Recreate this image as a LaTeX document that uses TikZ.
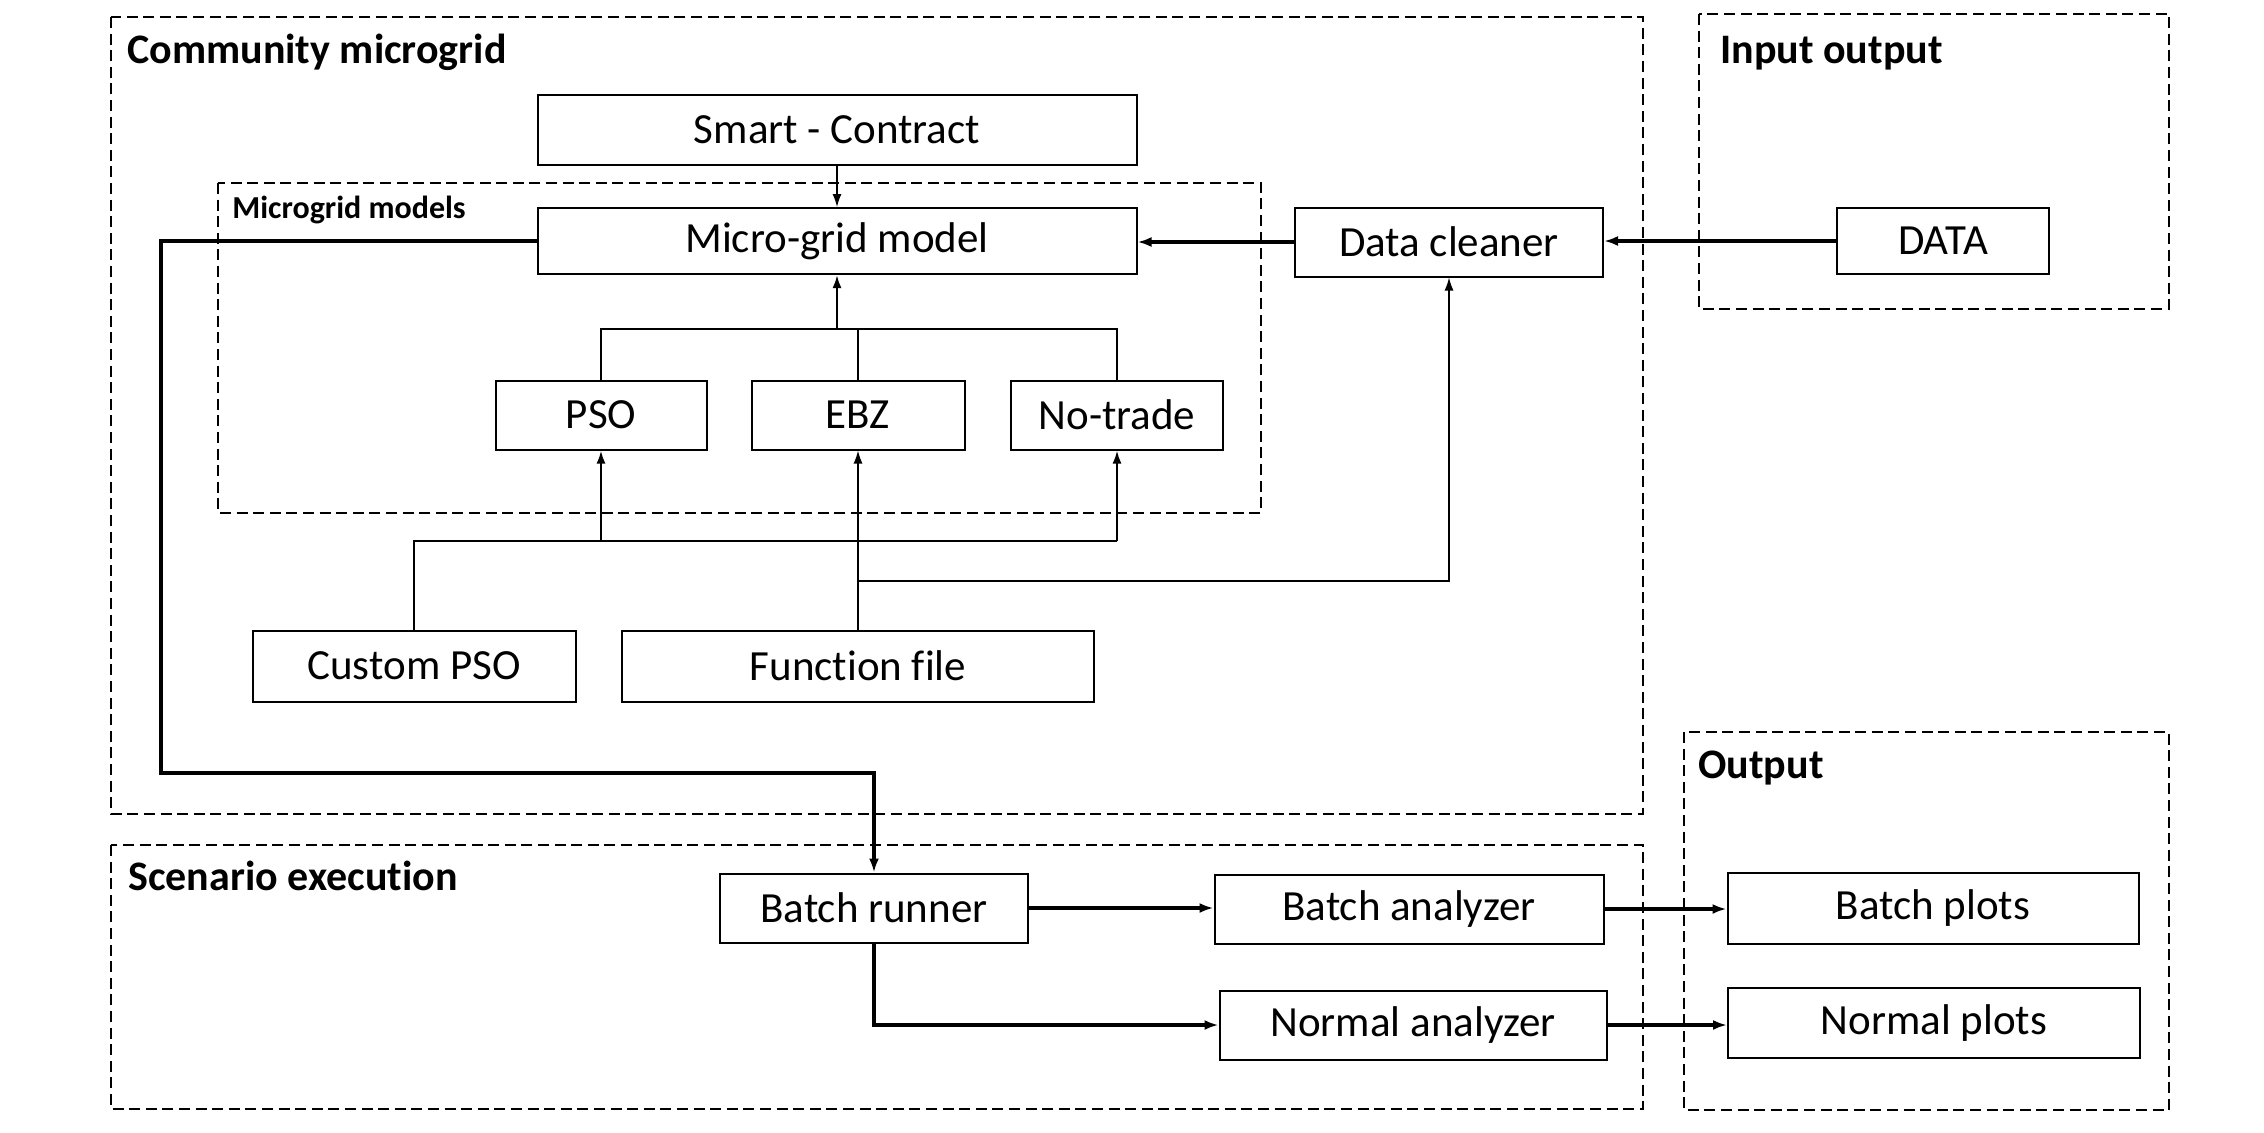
\documentclass[tikz,border=0pt]{standalone}
\usepackage{fontspec}
\setmainfont{Carlito}[Ligatures=NoCommon]
\usetikzlibrary{arrows.meta}
\begin{document}
\begin{tikzpicture}[x=0.5pt,y=-0.5pt,
  box/.style={draw, line width=1pt, inner sep=0pt, anchor=center, font=\fontsize{21.5}{24}\selectfont},
  group/.style={draw, line width=0.9pt, dash pattern=on 5.5pt off 2.8pt},
  grouptitle/.style={anchor=base west, inner sep=0pt, font=\fontsize{21}{24}\selectfont\bfseries},
  thick conn/.style={line width=1.9pt, -{Latex[length=7pt,width=5pt]}},
  thin conn/.style={line width=0.7pt, -{Latex[length=6.5pt,width=4.5pt]}},
  thin line/.style={line width=0.7pt},
  mid line/.style={line width=1.1pt}]
\useasboundingbox (0,0) rectangle (2264,1132);
\fill[white] (0,0) rectangle (2264,1132);
% groups
\draw[group] (111,17) rectangle (1643,814);
\draw[group] (1699,14) rectangle (2169,309);
\draw[group] (1684,732) rectangle (2169,1110);
\draw[group] (111,845) rectangle (1643,1109);
\draw[group] (218,183) rectangle (1261,513);
\node[grouptitle] (tcm) at (127,63) {Community microgrid};
\node[grouptitle] (tio) at (1720,63) {Input output};
\node[grouptitle] (tout) at (1698,778) {Output};
\node[grouptitle] (tse) at (128,890) {Scenario execution};
\node[grouptitle, font=\fontsize{16}{18}\selectfont\bfseries] (tmm) at (232,218) {Microgrid models};
% nodes
\node[box, minimum width=299.5pt, minimum height=35pt] (sc) at (837,130) {Smart - Contract};
\node[box, minimum width=299.5pt, minimum height=33pt] (mg) at (837,241) {Micro-grid model};
\node[box, minimum width=154pt, minimum height=34.5pt] (dc) at (1449,242) {Data cleaner};
\node[box, minimum width=106pt, minimum height=33pt] (data) at (1943,241) {DATA};
\node[box, minimum width=105.5pt, minimum height=34.5pt] (pso) at (601,415) {PSO};
\node[box, minimum width=106.5pt, minimum height=34.5pt] (ebz) at (858,415) {EBZ};
\node[box, minimum width=106pt, minimum height=34.5pt] (nt) at (1117,415) {No-trade};
\node[box, minimum width=161.5pt, minimum height=35.5pt] (cpso) at (414,666) {Custom PSO};
\node[box, minimum width=236pt, minimum height=35.5pt] (ff) at (858,666) {Function file};
\node[box, minimum width=154pt, minimum height=34.5pt] (br) at (874,908) {Batch runner};
\node[box, minimum width=194.5pt, minimum height=34.5pt] (ba) at (1409,909) {Batch analyzer};
\node[box, minimum width=193.5pt, minimum height=34.5pt] (na) at (1413,1025) {Normal analyzer};
\node[box, minimum width=205.5pt, minimum height=35.5pt] (bp) at (1933,908) {Batch plots};
\node[box, minimum width=206pt, minimum height=35pt] (np) at (1934,1023) {Normal plots};
% junction coordinates
\coordinate (tree) at (837,329);
\coordinate (bus) at (858,541);
\coordinate (dj) at (858,581);
\coordinate (k2) at (161,773);
% connectors
\draw[thin conn] (sc.south) -- (mg.north);
\draw[thick conn] (dc.west) -- (dc.west -| mg.east);
\draw[thick conn] (data.west) -- (data.west -| dc.east);
% tree up to micro-grid model
\draw[mid line] (pso.north) |- (tree) -| (nt.north);
\draw[thin line] (ebz.north) -- (ebz.north |- tree);
\draw[mid line, -{Latex[length=6.5pt,width=4.5pt]}] (tree) -- (mg.south);
% bus from custom PSO and function file
\draw[mid line] (cpso.north) |- (bus);
\draw[mid line] (bus) -- (bus -| nt.south);
\draw[mid line, -{Latex[length=6.5pt,width=4.5pt]}] (bus -| pso.south) -- (pso.south);
\draw[thin conn] (bus) -- (ebz.south);
\draw[mid line, -{Latex[length=6.5pt,width=4.5pt]}] (bus -| nt.south) -- (nt.south);
\draw[mid line] (ff.north) -- (bus);
\draw[thin conn] (dj) -| (dc.south);
% micro-grid model to batch runner
\draw[thick conn] (mg.west) -| (k2) -| (br.north);
\draw[thick conn] (br.east) -- (br.east -| ba.west);
\draw[thick conn] (br.south) |- (na.west);
\draw[thick conn] (ba.east) -- (ba.east -| bp.west);
\draw[thick conn] (na.east) -- (na.east -| np.west);
\end{tikzpicture}
\end{document}
